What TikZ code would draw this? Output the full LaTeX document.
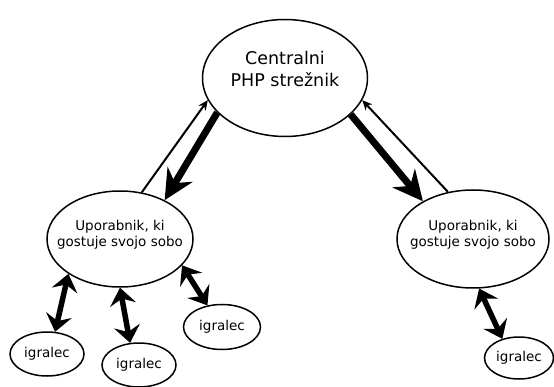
\documentclass[tikz,border=0pt]{standalone}
\usepackage{fontspec}
\setmainfont{DejaVu Sans}
\usetikzlibrary{shapes.geometric,arrows.meta}

\begin{document}
\begin{tikzpicture}[x=1pt,y=-1pt,
	krog/.style={ellipse,draw,line width=1.5pt,inner sep=0pt},
	napis/.style={font=\fontsize{13.5}{16}\selectfont,align=center},
	tanka/.style={line width=2pt,-{Stealth[length=10pt,width=9pt]}},
	debela/.style={line width=7pt,-{Stealth[length=30pt,width=29pt,inset=10pt]}},
	dvojna/.style={line width=5.5pt,{Stealth[length=17pt,width=26pt,inset=6pt]}-{Stealth[length=17pt,width=26pt,inset=6pt]}}]
	\useasboundingbox (0,0) rectangle (554,387);

	\node[krog,minimum width=165pt,minimum height=117pt,
		label={[font=\fontsize{17.5}{22}\selectfont,align=center,yshift=9pt]center:Centralni\\PHP strežnik}] (streznik) at (285,78) {};

	\node[krog,minimum width=146pt,minimum height=96pt,label={[napis,yshift=4pt]center:Uporabnik, ki\\gostuje svojo sobo}] (gostL) at (120,239) {};
	\node[krog,minimum width=152pt,minimum height=98pt,label={[napis,yshift=4pt]center:Uporabnik, ki\\gostuje svojo sobo}] (gostD) at (473,239) {};

	\node[krog,minimum width=74pt,minimum height=44pt,napis] (igr1) at (47,354) {igralec};
	\node[krog,minimum width=74pt,minimum height=44pt,napis] (igr2) at (139,365) {igralec};
	\node[krog,minimum width=77pt,minimum height=45pt,napis] (igr3) at (222,327) {igralec};
	\node[krog,minimum width=69pt,minimum height=42pt,napis] (igr4) at (519,358) {igralec};

	% streznik <-> gostitelji
	\draw[tanka] (gostL.65) -- (streznik.196);
	\draw[debela] (streznik.207) -- (gostL.41);
	\draw[debela] (streznik.-29) -- (gostD.143);
	\draw[tanka] (gostD.118) -- (streznik.-16);

	% gostitelji <-> igralci
	\draw[dvojna] (gostL.214) -- (igr1.70);
	\draw[dvojna] (gostL.270) -- (igr2.112);
	\draw[dvojna] (gostL.337) -- (igr3.124);
	\draw[dvojna] (gostD.277) -- (igr4.131);
\end{tikzpicture}
\end{document}
